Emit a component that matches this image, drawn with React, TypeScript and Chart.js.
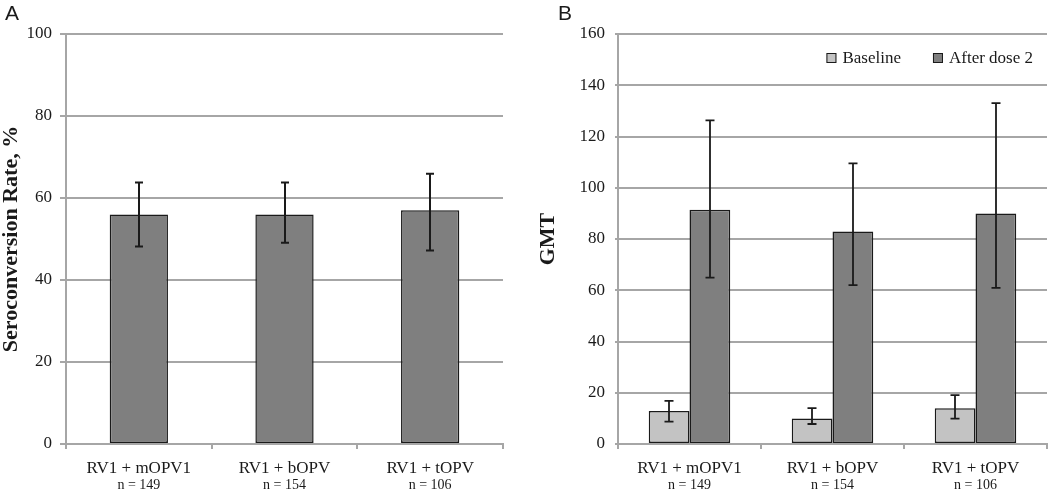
import React, { useEffect, useRef } from "react";
import { Chart, registerables } from "chart.js";
Chart.register(...registerables);

// ---------- data ----------
const categories = ["RV1 + mOPV1", "RV1 + bOPV", "RV1 + tOPV"];
const sampleSizes = ["n = 149", "n = 154", "n = 106"];

// Panel A: seroconversion rate (%)
const seroRate = [56, 56, 57];
const seroLow = [48.2, 49.1, 47.2];
const seroHigh = [63.8, 63.8, 65.9];

// Panel B: GMT
const gmtBaseline = [12.9, 10.0, 14.0];
const gmtBaselineLow = [8.7, 7.8, 9.9];
const gmtBaselineHigh = [16.8, 14.0, 19.1];
const gmtDose2 = [91.4, 82.9, 90.0];
const gmtDose2Low = [64.9, 62.0, 60.9];
const gmtDose2High = [126.3, 109.5, 133.0];

const seriesNames = ["Baseline", "After dose 2"];
const yTitleA = "Seroconversion Rate, %";
const yTitleB = "GMT";

// ---------- styling ----------
const SERIF = "'Liberation Serif', 'Times New Roman', serif";
const GRID = "#a6a6a6";
const DARK = "#1a1a1a";
const BAR_DARK = "#7f7f7f";
const BAR_LIGHT = "#c3c3c3";

Chart.defaults.font.family = SERIF;
Chart.defaults.color = DARK;

const errorBarPlugin = {
  id: "errorBars",
  afterDatasetsDraw(chart: any) {
    const ctx = chart.ctx;
    const yScale = chart.scales.y;
    chart.data.datasets.forEach((ds: any, i: number) => {
      if (!ds.errLow) return;
      const meta = chart.getDatasetMeta(i);
      ctx.save();
      ctx.strokeStyle = DARK;
      ctx.lineWidth = ds.errWidth || 2;
      const cap = ds.errCap || 8;
      meta.data.forEach((bar: any, j: number) => {
        const x = Math.round(bar.x);
        const yl = yScale.getPixelForValue(ds.errLow[j]);
        const yh = yScale.getPixelForValue(ds.errHigh[j]);
        ctx.beginPath();
        ctx.moveTo(x, yl);
        ctx.lineTo(x, yh);
        ctx.moveTo(x - cap / 2, yl);
        ctx.lineTo(x + cap / 2, yl);
        ctx.moveTo(x - cap / 2, yh);
        ctx.lineTo(x + cap / 2, yh);
        ctx.stroke();
      });
      ctx.restore();
    });
  },
};

const insideLegendPlugin = {
  id: "insideLegend",
  afterDraw(chart: any) {
    const opts = chart.options.plugins.insideLegend;
    if (!opts || !opts.display) return;
    const ctx = chart.ctx;
    const area = chart.chartArea;
    ctx.save();
    ctx.font = `17px ${SERIF}`;
    ctx.textBaseline = "middle";
    ctx.textAlign = "left";
    const y = area.top + 25;
    let x = area.right - 14;
    const dsets = chart.data.datasets;
    for (let k = dsets.length - 1; k >= 0; k--) {
      const text = dsets[k].label;
      const w = ctx.measureText(text).width;
      x -= w;
      ctx.fillStyle = DARK;
      ctx.fillText(text, x, y);
      x -= 6 + 10;
      ctx.fillStyle = dsets[k].backgroundColor;
      ctx.fillRect(x, y - 6, 10, 10);
      ctx.strokeStyle = DARK;
      ctx.lineWidth = 1;
      ctx.strokeRect(x + 0.5, y - 5.5, 9, 9);
      x -= 32;
    }
    ctx.restore();
  },
};

function baseOptions(opts: {
  yMax: number;
  yTitle: string;
  yWidth: number;
  yTickLen: number;
  yTickPad: number;
  yTitlePad: number;
  padRight: number;
  legend: boolean;
}) {
  return {
    responsive: false,
    animation: false as const,
    layout: { padding: { top: 34, right: opts.padRight, left: 0, bottom: 0 } },
    plugins: {
      legend: { display: false },
      tooltip: { enabled: false },
      insideLegend: { display: opts.legend },
    },
    scales: {
      x: {
        type: "category" as const,
        position: "bottom" as const,
        weight: 0,
        offset: true,
        grid: {
          display: true,
          offset: true,
          drawOnChartArea: false,
          drawTicks: true,
          tickLength: 5,
          color: GRID,
          lineWidth: 2,
        },
        border: { display: true, color: GRID, width: 2 },
        ticks: {
          font: { size: 17, family: SERIF, lineHeight: 1 },
          color: DARK,
          padding: 11,
          maxRotation: 0,
        },
        afterFit: (s: any) => {
          s.height = 34;
        },
      },
      x2: {
        type: "category" as const,
        position: "bottom" as const,
        weight: 1,
        labels: sampleSizes,
        offset: true,
        grid: { display: false, drawTicks: false },
        border: { display: false },
        ticks: {
          font: { size: 14, family: SERIF, lineHeight: 1 },
          color: DARK,
          padding: 0,
          maxRotation: 0,
        },
        afterFit: (s: any) => {
          s.height = 13;
        },
      },
      y: {
        min: 0,
        max: opts.yMax,
        ticks: { stepSize: 20, font: { size: 17, family: SERIF }, color: DARK, padding: opts.yTickPad },
        grid: { color: GRID, lineWidth: 2, tickLength: opts.yTickLen, drawTicks: true },
        border: { display: true, color: GRID, width: 2 },
        title: {
          display: true,
          text: opts.yTitle,
          font: { size: 22, weight: "bold" as const, family: SERIF, lineHeight: 1 },
          color: DARK,
          padding: { top: opts.yTitlePad, bottom: 0 },
        },
        afterFit: (s: any) => {
          s.width = opts.yWidth;
        },
      },
    },
  };
}

export default function App() {
  const refA = useRef<HTMLCanvasElement>(null);
  const refB = useRef<HTMLCanvasElement>(null);

  useEffect(() => {
    const chartA = new Chart(refA.current as HTMLCanvasElement, {
      type: "bar",
      data: {
        labels: categories,
        datasets: [
          {
            label: "Seroconversion Rate",
            data: seroRate,
            xAxisID: "x",
            yAxisID: "y",
            backgroundColor: BAR_DARK,
            borderColor: DARK,
            borderWidth: 1.5,
            borderSkipped: false,
            barPercentage: 1,
            categoryPercentage: 0.4,
            errLow: seroLow,
            errHigh: seroHigh,
            errWidth: 2,
            errCap: 8,
          } as any,
        ],
      },
      options: baseOptions({
        yMax: 100,
        yTitle: yTitleA,
        yWidth: 66,
        yTickLen: 6,
        yTickPad: 8,
        yTitlePad: 0,
        padRight: 17,
        legend: false,
      }) as any,
      plugins: [errorBarPlugin, insideLegendPlugin],
    });

    const chartB = new Chart(refB.current as HTMLCanvasElement, {
      type: "bar",
      data: {
        labels: categories,
        datasets: [
          {
            label: seriesNames[0],
            data: gmtBaseline,
            xAxisID: "x",
            yAxisID: "y",
            backgroundColor: BAR_LIGHT,
            borderColor: DARK,
            borderWidth: 1.5,
            borderSkipped: false,
            barPercentage: 1,
            categoryPercentage: 0.57,
            errLow: gmtBaselineLow,
            errHigh: gmtBaselineHigh,
            errWidth: 1.8,
            errCap: 9,
          } as any,
          {
            label: seriesNames[1],
            data: gmtDose2,
            xAxisID: "x",
            yAxisID: "y",
            backgroundColor: BAR_DARK,
            borderColor: DARK,
            borderWidth: 1.5,
            borderSkipped: false,
            barPercentage: 1,
            categoryPercentage: 0.57,
            errLow: gmtDose2Low,
            errHigh: gmtDose2High,
            errWidth: 1.8,
            errCap: 9,
          } as any,
        ],
      },
      options: baseOptions({
        yMax: 160,
        yTitle: yTitleB,
        yWidth: 98,
        yTickLen: 3,
        yTickPad: 10,
        yTitlePad: 17,
        padRight: 3,
        legend: true,
      }) as any,
      plugins: [errorBarPlugin, insideLegendPlugin],
    });

    return () => {
      chartA.destroy();
      chartB.destroy();
    };
  }, []);

  const letterStyle: React.CSSProperties = {
    position: "absolute",
    top: 2,
    font: "21px 'Liberation Sans', Arial, sans-serif",
    lineHeight: "21px",
    color: DARK,
  };

  return (
    <div
      style={{
        position: "fixed",
        left: 0,
        top: 0,
        width: 1050,
        height: 491,
        background: "#ffffff",
        overflow: "hidden",
      }}
    >
      <canvas
        ref={refA}
        width={520}
        height={491}
        style={{ position: "absolute", left: 0, top: 0, width: 520, height: 491 }}
      />
      <canvas
        ref={refB}
        width={530}
        height={491}
        style={{ position: "absolute", left: 520, top: 0, width: 530, height: 491 }}
      />
      <div style={{ ...letterStyle, left: 5 }}>A</div>
      <div style={{ ...letterStyle, left: 558 }}>B</div>
    </div>
  );
}
